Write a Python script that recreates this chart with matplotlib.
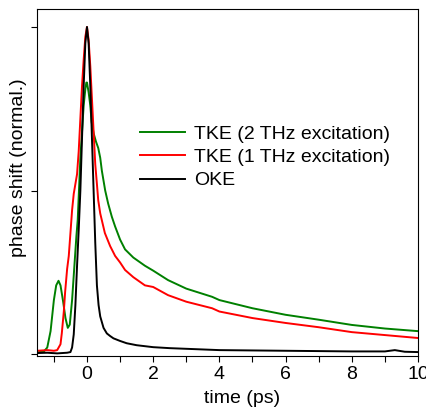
import numpy as np
import matplotlib
matplotlib.use("Agg")
import matplotlib.pyplot as plt
from matplotlib.ticker import MultipleLocator

plt.rcParams['font.family'] = ['Liberation Sans', 'DejaVu Sans']

# OKE
t_oke = [-1.5, -1.2, -0.9, -0.6, -0.5, -0.45, -0.4, -0.35, -0.3, -0.25, -0.2, -0.15, -0.1, -0.05, 0.0,
         0.05, 0.1, 0.15, 0.2, 0.25, 0.3, 0.35, 0.4, 0.5, 0.6, 0.7, 0.8, 1.0, 1.2, 1.5, 2.0, 2.5, 3.0,
         4.0, 5.0, 6.0, 7.0, 8.0, 9.0, 9.3, 9.6, 10.0]
y_oke = [0.003, 0.004, 0.002, 0.004, 0.006, 0.02, 0.06, 0.15, 0.27, 0.38, 0.5, 0.66, 0.82, 0.95, 1.0,
         0.95, 0.82, 0.66, 0.5, 0.34, 0.21, 0.15, 0.115, 0.08, 0.063, 0.055, 0.048, 0.04, 0.033, 0.027,
         0.021, 0.018, 0.016, 0.012, 0.011, 0.010, 0.009, 0.008, 0.008, 0.012, 0.007, 0.006]

# TKE, 1 THz
t_1thz = [-1.5, -1.2, -1.0, -0.9, -0.8, -0.76, -0.7, -0.66, -0.6, -0.55, -0.5, -0.45, -0.4, -0.35,
          -0.3, -0.25, -0.2, -0.15, -0.1, -0.05, 0.0, 0.05, 0.1, 0.15, 0.2, 0.25, 0.3, 0.34, 0.4,
          0.54, 0.7, 0.85, 1.0, 1.15, 1.4, 1.75, 2.0, 2.45, 3.0, 3.78, 4.0, 5.0, 6.0, 7.0, 8.0, 9.0, 10.0]
y_1thz = [0.01, 0.012, 0.01, 0.012, 0.03, 0.064, 0.13, 0.19, 0.26, 0.3, 0.37, 0.44, 0.49, 0.52,
          0.55, 0.62, 0.72, 0.82, 0.9, 0.97, 1.0, 0.96, 0.88, 0.78, 0.68, 0.58, 0.52, 0.47, 0.43,
          0.37, 0.33, 0.30, 0.28, 0.257, 0.235, 0.21, 0.205, 0.18, 0.16, 0.14, 0.13, 0.11, 0.095,
          0.082, 0.067, 0.058, 0.049]

# TKE, 2 THz
t_2thz = [-1.5, -1.3, -1.2, -1.1, -1.0, -0.93, -0.86, -0.8, -0.72, -0.65, -0.58, -0.52, -0.45, -0.4,
          -0.32, -0.28, -0.2, -0.15, -0.1, -0.05, -0.02, 0.0, 0.05, 0.1, 0.14, 0.2, 0.27, 0.34, 0.4,
          0.45, 0.55, 0.64, 0.75, 0.85, 1.0, 1.15, 1.4, 1.75, 2.0, 2.45, 3.0, 3.78, 4.0, 5.0, 6.0,
          7.0, 8.0, 9.0, 10.0]
y_2thz = [0.005, 0.008, 0.02, 0.07, 0.165, 0.21, 0.224, 0.21, 0.16, 0.11, 0.08, 0.09, 0.165, 0.24,
          0.36, 0.41, 0.6, 0.68, 0.76, 0.81, 0.83, 0.83, 0.8, 0.76, 0.71, 0.675, 0.65, 0.63, 0.6,
          0.56, 0.5, 0.46, 0.42, 0.39, 0.35, 0.32, 0.295, 0.27, 0.255, 0.226, 0.2, 0.175, 0.165,
          0.14, 0.12, 0.105, 0.089, 0.078, 0.07]

fig = plt.figure(figsize=(4.27, 4.08), dpi=100)
ax = fig.add_axes([37/427, 1 - 356/408, 381/427, 347/408])

ax.plot(t_2thz, y_2thz, color='#008000', lw=1.4, label='TKE (2 THz excitation)')
ax.plot(t_1thz, y_1thz, color='#ff0000', lw=1.4, label='TKE (1 THz excitation)')
ax.plot(t_oke, y_oke, color='black', lw=1.4, label='OKE')

ax.set_xlim(-1.51, 10)
ax.set_ylim(-0.006, 1.055)
ax.xaxis.set_major_locator(MultipleLocator(2))
ax.xaxis.set_minor_locator(MultipleLocator(1))
ax.set_yticks([0, 0.5, 1.0])
ax.set_yticklabels([])
ax.tick_params(axis='both', which='both', direction='out', length=4, width=0.8, labelsize=14)
ax.tick_params(top=False, right=False)

ax.set_xlabel('time (ps)', fontsize=14)
ax.set_ylabel('phase shift (normal.)', fontsize=14)
# the labels sit a bit off centre in the original
ax.xaxis.set_label_coords(0.539, -0.098)
ax.yaxis.set_label_coords(-0.026, 0.542)

ax.legend(loc='center left', bbox_to_anchor=(0.27, 0.573), frameon=False, fontsize=14,
          handlelength=2.3, handletextpad=0.5, labelspacing=0.3, borderpad=0, borderaxespad=0)

fig.savefig('out.png', dpi=100)
